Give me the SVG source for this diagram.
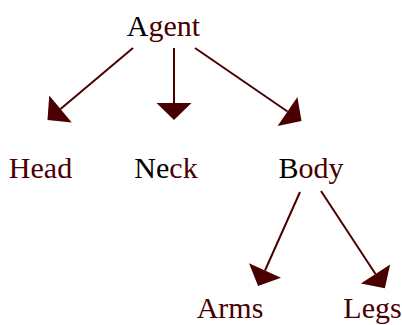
<svg xmlns="http://www.w3.org/2000/svg" width="402" height="325" viewBox="0 0 402 325">
<style>
text{font-family:"Liberation Serif","Times New Roman",serif;font-size:30px;fill:#4a0000}
.k{fill:#000}
.e{stroke:#4a0000;stroke-width:2;fill:none;marker-end:url(#ah)}
</style>
<defs>
<marker id="ah" markerUnits="userSpaceOnUse" orient="auto" refX="0" refY="0" markerWidth="40" markerHeight="40" viewBox="0 -20 20 40" overflow="visible">
<path d="M0,-17.5 L17,0 L0,17.5 Z" fill="#4a0000"/>
</marker>
</defs>
<rect width="402" height="325" fill="#fff"/>
<g id="edges">
<path class="e" d="M133,48 L60.5,109"/>
<path class="e" d="M174,48 L174,103"/>
<path class="e" d="M195,48 L287.5,111.5"/>
<path class="e" d="M300,192 L265,270.5"/>
<path class="e" d="M321,191 L375.5,274"/>
</g>
<g id="agent"><text x="163.5" y="36" text-anchor="middle"><tspan class="k">A</tspan>gent</text></g>
<g id="head"><text x="40.5" y="178" text-anchor="middle">Head</text></g>
<g id="neck"><text x="166" y="178" text-anchor="middle"><tspan class="k">Ne</tspan>ck</text></g>
<g id="body"><text x="311" y="178" text-anchor="middle"><tspan class="k">B</tspan>ody</text></g>
<g id="arms"><text x="230" y="318" text-anchor="middle">Arms</text></g>
<g id="legs"><text x="372.5" y="318" text-anchor="middle">Legs</text></g>
</svg>
